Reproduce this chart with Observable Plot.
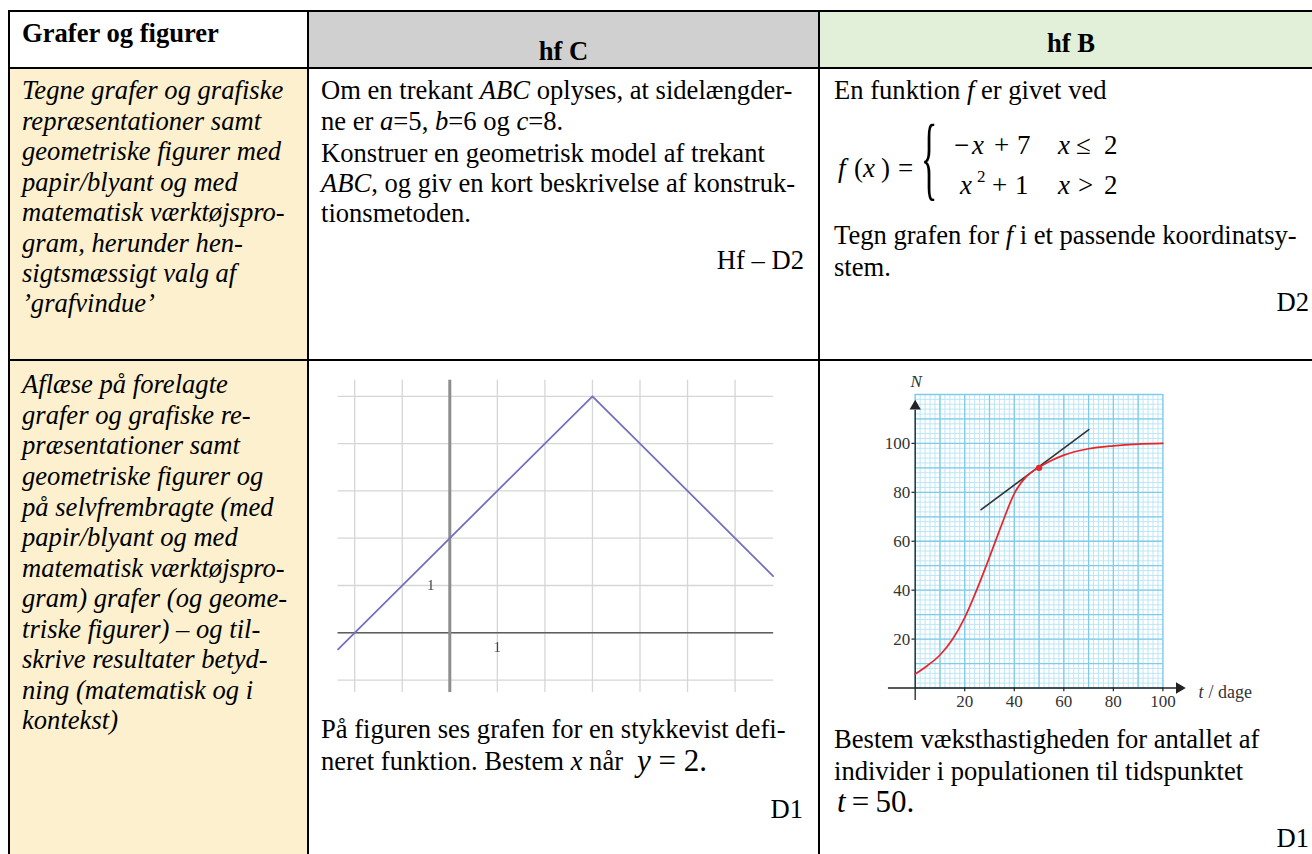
<!DOCTYPE html>
<html>
<head>
<meta charset="utf-8">
<script src="https://cdn.jsdelivr.net/npm/d3@7"></script>
<script src="https://cdn.jsdelivr.net/npm/@observablehq/plot@0.6"></script>
<style>
html,body{margin:0;padding:0;width:1312px;height:854px;overflow:hidden;background:#fff;}
#page{position:relative;width:1312px;height:854px;overflow:hidden;font-family:"Liberation Serif","Times New Roman",serif;color:#000;}
.t{position:absolute;white-space:pre;font-family:"Liberation Serif","Times New Roman",serif;}
.r{position:absolute;}
</style>
</head>
<body>
<div id="page"></div>
<script>
// ---------- text content ----------
const headerTexts = ["Grafer og figurer", "hf C", "hf B"];
const row1Left = ["Tegne grafer og grafiske", "repræsentationer samt", "geometriske figurer med",
  "papir/blyant og med", "matematisk værktøjspro-", "gram, herunder hen-", "sigtsmæssigt valg af", "’grafvindue’"];
const row1Mid = ["Om en trekant <i>ABC</i> oplyses, at sidelængder-", "ne er <i>a</i>=5, <i>b</i>=6 og <i>c</i>=8.",
  "Konstruer en geometrisk model af trekant", "<i>ABC</i>, og giv en kort beskrivelse af konstruk-", "tionsmetoden."];
const row1MidRef = "Hf – D2";
const row1Right = ["En funktion <i>f</i> er givet ved", "Tegn grafen for <i>f</i> i et passende koordinatsy-", "stem."];
const row1RightRef = "D2";
const row2Left = ["Aflæse på forelagte", "grafer og grafiske re-", "præsentationer samt", "geometriske figurer og",
  "på selvfrembragte (med", "papir/blyant og med", "matematisk værktøjspro-", "gram) grafer (og geome-",
  "triske figurer) – og til-", "skrive resultater betyd-", "ning (matematisk og i", "kontekst)"];
const row2Mid = ["På figuren ses grafen for en stykkevist defi-", "neret funktion. Bestem <i>x</i> når "];
const row2MidMath = "<i>y</i> = 2.";
const row2Right = ["Bestem væksthastigheden for antallet af", "individer i populationen til tidspunktet"];
const row2RightMath = "<i>t</i>&thinsp;=&thinsp;50.";
const refD1 = "D1";

// ---------- chart C data (piecewise linear function) ----------
const triX = [-2.35, 3, 6.8];
const triY = [-0.35, 5, 1.2];
const gridXC = [-2, -1, 0, 1, 2, 3, 4, 5, 6];
const gridYC = [-1, 0, 1, 2, 3, 4, 5];
const labelsC = [{x: 1, y: -0.3, s: "1"}, {x: -0.4, y: 1, s: "1"}];

// ---------- chart B data (population curve N(t)) ----------
const tVals = [0, 5, 10, 15, 20, 25, 30, 35, 40, 45, 50, 55, 60, 70, 80, 90, 100];
const nVals = [5.7, 9.2, 13.5, 19.8, 28.8, 40.5, 53.5, 67, 79.5, 86.6, 90.2, 93, 95.2, 97.8, 99, 99.7, 100];
const tangentT = [26.6, 70.1];
const tangentN = [72.9, 105.6];
const pointT = [50];
const pointN = [90];
const xTicksB = [20, 40, 60, 80, 100];
const yTicksB = [20, 40, 60, 80, 100];

// ---------- page helpers ----------
const page = document.getElementById("page");
const FS = 26.6;
function rect(x0, y0, x1, y1, c) {
  const d = document.createElement("div");
  d.className = "r";
  Object.assign(d.style, {left: x0 + "px", top: y0 + "px", width: (x1 - x0) + "px", height: (y1 - y0) + "px", background: c});
  page.appendChild(d);
}
function put(html, x, base, o = {}) {
  const s = o.size || FS;
  const d = document.createElement("div");
  d.className = "t";
  d.innerHTML = html;
  d.style.fontSize = s + "px";
  d.style.lineHeight = (1.107 * s) + "px";
  d.style.top = (base - 0.891 * s) + "px";
  d.style.left = x + "px";
  if (o.align === "right") d.style.transform = "translateX(-100%)";
  if (o.align === "center") d.style.transform = "translateX(-50%)";
  if (o.italic) d.style.fontStyle = "italic";
  if (o.bold) d.style.fontWeight = "bold";
  page.appendChild(d);
  return d;
}

// ---------- table backgrounds ----------
const yellow = "#fcf0cf";
rect(309, 12, 818, 67, "#d0d0d1");
rect(820, 12, 1322, 67, "#e2efd9");
rect(10, 69, 307, 359, yellow);
rect(10, 361, 307, 860, yellow);

// ---------- text ----------
put(headerTexts[0], 22, 43, {bold: true});
put(headerTexts[1], 563.5, 61, {bold: true, align: "center"});
put(headerTexts[2], 1071, 53, {bold: true, align: "center"});

row1Left.forEach((s, i) => put(s, 22, 100 + 30.45 * i, {italic: true}));
[100, 131, 163, 193, 223].forEach((b, i) => put(row1Mid[i], 321, b));
put(row1MidRef, 804, 270, {align: "right"});
put(row1Right[0], 834, 100);
put(row1Right[1], 834, 245);
put(row1Right[2], 834, 277);
put(row1RightRef, 1309, 312, {align: "right"});

// formula f(x) = { -x+7 , x<=2 ; x^2+1 , x>2 }
const FF = 27;
put("<i>f</i>", 838, 178, {size: FF});
put("(", 854, 178, {size: FF});
put("<i>x</i>", 863, 178, {size: FF});
put(")", 881, 178, {size: FF});
put("=", 898, 178, {size: FF});
{
  const S = 34;
  const d = put("{", 921, 0, {size: S});
  d.style.top = (164 - 0.62 * S) + "px";
  d.style.transformOrigin = "50% " + (0.62 * S) + "px";
  d.style.transform = "scale(1.0, 2.75)";
}
put("−", 954, 155, {size: FF});
put("<i>x</i>", 972, 155, {size: FF});
put("+", 994, 155, {size: FF});
put("7", 1017, 155, {size: FF});
put("<i>x</i>", 1058, 155, {size: FF});
put("≤", 1076, 155, {size: FF});
put("2", 1104, 155, {size: FF});
put("<i>x</i>", 960, 195, {size: FF});
put("2", 977, 183, {size: 17});
put("+", 992, 195, {size: FF});
put("1", 1015, 195, {size: FF});
put("<i>x</i>", 1058, 195, {size: FF});
put("&gt;", 1078, 195, {size: FF});
put("2", 1104, 195, {size: FF});

row2Left.forEach((s, i) => put(s, 22, 394 + 30.56 * i, {italic: true}));
put(row2Mid[0], 321, 739);
put(row2Mid[1], 321, 771);
put(row2MidMath, 637, 772, {size: 31});
put(refD1, 803, 819, {align: "right"});
put(row2Right[0], 834, 749);
put(row2Right[1], 834, 781);
put(row2RightMath, 837, 813, {size: 31});
put(refD1, 1309, 848, {align: "right"});

// ---------- table borders ----------
rect(8, 10, 1330, 12, "#000");
rect(8, 10, 10, 860, "#000");
rect(307, 10, 309, 860, "#000");
rect(818, 10, 820, 860, "#000");
rect(8, 67, 1330, 69, "#000");
rect(8, 359, 1330, 361, "#000");

// ---------- chart C ----------
{
  const L = 320, T = 370, W = 480, H = 330;
  const x0 = 449.3, kx = 47.55, y0 = 632.3, ky = 47.3;
  const tri = triX.map((x, i) => ({x, y: triY[i]}));
  const svg = Plot.plot({
    width: W, height: H, margin: 0,
    style: {fontFamily: "Liberation Serif, serif", background: "transparent", overflow: "visible"},
    x: {domain: [(0 - (x0 - L)) / kx, (W - (x0 - L)) / kx], range: [0, W], axis: null},
    y: {domain: [((y0 - T) - H) / ky, (y0 - T) / ky], range: [H, 0], axis: null},
    marks: [
      Plot.ruleX(gridXC, {y1: -1.26, y2: 5.34, stroke: "#d6d6d6", strokeWidth: 1.3}),
      Plot.ruleY(gridYC, {x1: -2.35, x2: 6.81, stroke: "#d6d6d6", strokeWidth: 1.3}),
      Plot.ruleY([0], {x1: -2.35, x2: 6.81, stroke: "#5e5e5e", strokeWidth: 1.6}),
      Plot.ruleX([0], {y1: -1.26, y2: 5.34, stroke: "#8e8e8e", strokeWidth: 3}),
      Plot.line(tri, {x: "x", y: "y", stroke: "#7470bf", strokeWidth: 1.8}),
      Plot.text(labelsC, {x: "x", y: "y", text: "s", fontSize: 15, fill: "#444"})
    ]
  });
  Object.assign(svg.style, {position: "absolute", left: L + "px", top: T + "px", filter: "blur(0.35px)"});
  page.appendChild(svg);
}

// ---------- chart B ----------
{
  const L = 860, T = 370, W = 452, H = 340;
  const t0 = 914.7, kt = 2.477, n0 = 687.5, kn = 2.446;
  const curve = tVals.map((t, i) => ({t, n: nVals[i]}));
  const tangent = tangentT.map((t, i) => ({t, n: tangentN[i]}));
  const point = pointT.map((t, i) => ({t, n: pointN[i]}));
  const minorT = d3.range(0, 101, 2), majorT = d3.range(0, 101, 10);
  const minorN = d3.range(0, 121, 2), majorN = d3.range(0, 121, 10);
  const svg = Plot.plot({
    width: W, height: H, margin: 0,
    style: {fontFamily: "Liberation Serif, serif", background: "transparent", overflow: "visible", color: "#333"},
    x: {domain: [(L - t0) / kt, (L + W - t0) / kt], range: [0, W], axis: null},
    y: {domain: [(n0 - T - H) / kn, (n0 - T) / kn], range: [H, 0], axis: null},
    marks: [
      Plot.ruleX(minorT, {y1: 0, y2: 120, stroke: "#bde6f6", strokeWidth: 1}),
      Plot.ruleY(minorN, {x1: 0, x2: 100, stroke: "#bde6f6", strokeWidth: 1}),
      Plot.ruleX(majorT, {y1: 0, y2: 120, stroke: "#7fcbea", strokeWidth: 1.3}),
      Plot.ruleY(majorN, {x1: 0, x2: 100, stroke: "#7fcbea", strokeWidth: 1.3}),
      Plot.ruleY([0], {x1: -10.8, x2: 105.5, stroke: "#222", strokeWidth: 1.3}),
      Plot.ruleX([0], {y1: -5.1, y2: 113.5, stroke: "#222", strokeWidth: 1.3}),
      Plot.dot([{t: 106.6, n: 0}], {x: "t", y: "n", symbol: "triangle", rotate: 90, r: 4.2, fill: "#222", stroke: "none"}),
      Plot.dot([{t: 0, n: 115.2}], {x: "t", y: "n", symbol: "triangle", r: 4.2, fill: "#222", stroke: "none"}),
      Plot.ruleY(yTicksB, {x1: -1.3, x2: 0, stroke: "#222", strokeWidth: 1.2}),
      Plot.ruleX(xTicksB, {y1: -1.5, y2: 0, stroke: "#222", strokeWidth: 1.2}),
      Plot.text(yTicksB, {x: 0, y: d => d, text: d => String(d), dx: -5, textAnchor: "end", fontSize: 17, fill: "#333"}),
      Plot.text(xTicksB, {x: d => d, y: 0, text: d => String(d), dy: 14, fontSize: 17, fill: "#333"}),
      Plot.text(["N"], {x: 0.4, y: 125.4, text: d => d, fontSize: 17, fontStyle: "italic", fill: "#333"}),
      Plot.text(["t"], {x: 114.4, y: -1.8, text: d => d, textAnchor: "start", fontSize: 18, fontStyle: "italic", fill: "#333"}),
      Plot.text(["/ dage"], {x: 114.4, y: -1.8, text: d => d, dx: 10, textAnchor: "start", fontSize: 18, fill: "#333"}),
      Plot.line(tangent, {x: "t", y: "n", stroke: "#333", strokeWidth: 1.6}),
      Plot.line(curve, {x: "t", y: "n", curve: "monotone-x", stroke: "#e8262a", strokeWidth: 1.7}),
      Plot.dot(point, {x: "t", y: "n", r: 3.2, fill: "#e8262a", stroke: "none"})
    ]
  });
  Object.assign(svg.style, {position: "absolute", left: L + "px", top: T + "px"});
  page.appendChild(svg);
}
</script>
</body>
</html>
